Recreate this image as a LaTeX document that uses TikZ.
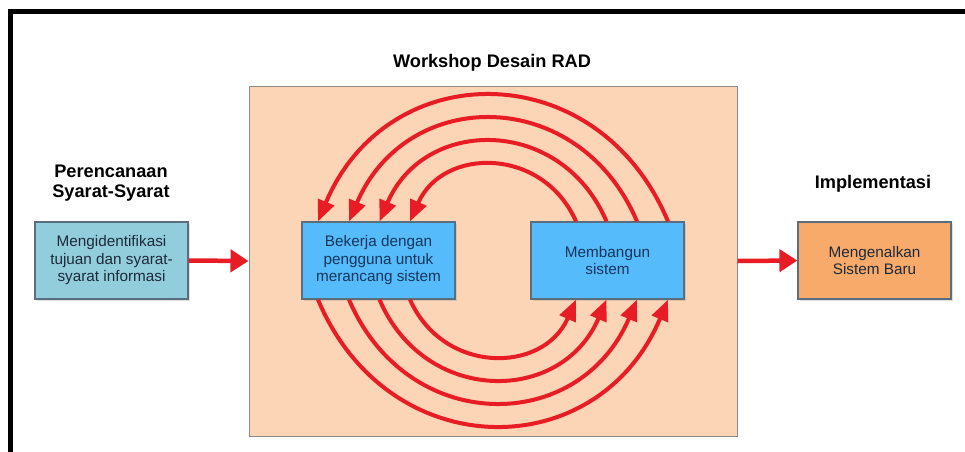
\documentclass[tikz,border=0pt]{standalone}
\usepackage{fontspec}
\setmainfont{Liberation Sans}
\usetikzlibrary{arrows.meta,calc,shadows}
\definecolor{wsfill}{HTML}{FBD5B5}
\definecolor{wsdraw}{HTML}{8A8A8A}
\definecolor{aquafill}{HTML}{92CDDC}
\definecolor{skyfill}{HTML}{55BBFA}
\definecolor{orfill}{HTML}{F7AA69}
\definecolor{boxdraw}{HTML}{5A6E80}
\definecolor{arrred}{HTML}{E81C24}
\definecolor{boxtext}{HTML}{1E2A3A}
\definecolor{navytext}{HTML}{17365D}
\tikzset{
  procbox/.style={draw=boxdraw, line width=1.2pt, minimum width=153pt, minimum height=77pt,
    inner sep=0pt, align=center, font=\fontsize{15.3}{17.5}\selectfont, text=boxtext,
    drop shadow={opacity=0.25, shadow xshift=1.5pt, shadow yshift=-1.5pt}},
  headlabel/.style={font=\bfseries\fontsize{18.2}{20}\selectfont, align=center, text=black},
  flowarrow/.style={draw=arrred, line width=4.5pt, -{Triangle[length=18pt,width=22pt]}},
  looparrow/.style={draw=arrred, line width=4pt, -{Triangle[length=21pt,width=17pt]}}
}
\begin{document}
\begin{tikzpicture}[x=1pt,y=-1pt]
\useasboundingbox (0,0) rectangle (965,451);
\fill[white] (0,0) rectangle (965,451);
% outer frame (partly visible)
\draw[line width=4.5pt] (10.5,452) -- (10.5,11.7) -- (966,11.7);
% workshop area
\node[draw=wsdraw, fill=wsfill, line width=1pt, minimum width=488pt, minimum height=350pt, inner sep=0pt] (work) at (493,261) {};
\node[headlabel] (worktitle) at (492,63) {Workshop Desain RAD};
% boxes
\node[procbox, fill=aquafill] (L) at (111.5,260.5) {Mengidentifikasi\\tujuan dan syarat-\\syarat informasi};
\node[procbox, fill=skyfill, text=navytext] (B) at (378.5,260.5) {Bekerja dengan\\pengguna untuk\\merancang sistem};
\node[procbox, fill=skyfill, text=navytext] (M) at (607.5,260.5) {Membangun\\sistem};
\node[procbox, fill=orfill] (R) at (874.5,260.5) {Mengenalkan\\Sistem Baru};
% labels
\node[headlabel] (plan) at (111,183) {Perencanaan\\Syarat-Syarat};
\node[headlabel] (impl) at (873,184) {Implementasi};
% flow arrows
\draw[flowarrow] (L.east) -- (work.west);
\draw[flowarrow] (work.east) -- (R.west);
% loop arrows
\foreach \w/\h/\u in {83/74.7/33, 113.5/105.3/45, 144/136/58, 175/166.7/70}{
  \draw[looparrow] ($(M.north)+(\w-114.5,0)$) .. controls +(-\u,-\h) and +(\u,-\h) .. ($(B.north)+(114.5-\w,0)$);
  \draw[looparrow] ($(B.south)+(114.5-\w,0)$) .. controls +(\u,\h) and +(-\u,\h) .. ($(M.south)+(\w-114.5,0)$);
}
\end{tikzpicture}
\end{document}
